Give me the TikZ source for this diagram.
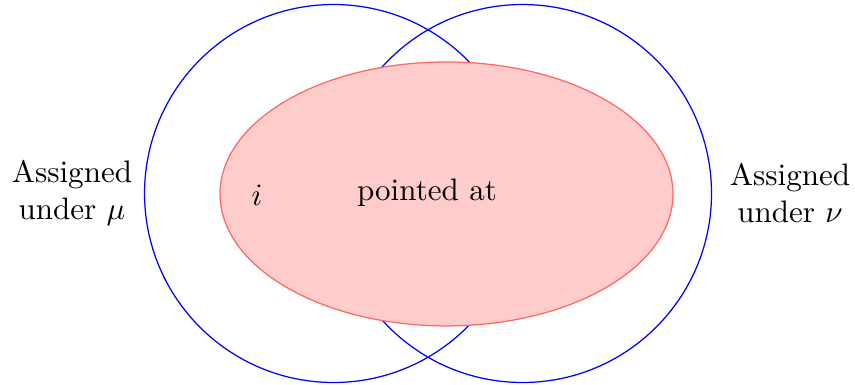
\documentclass[tikz,border=0pt]{standalone}
\begin{document}
\begin{tikzpicture}
    \useasboundingbox (0,0) rectangle (9.672,4.355);
    \draw[blue] (3.773,2.166) circle (2.138);
    \draw[blue] (5.911,2.166) circle (2.138);
    \draw[red!60,fill=red!20] (5.051,2.161) ellipse (2.562 and 1.493);
    \node[align=center] (mu) at (0.814,2.172) {Assigned\\under $\mu$};
    \node[align=center] (nu) at (8.937,2.172) {Assigned\\under $\nu$};
    \node (i) at (2.907,2.149) {$i$};
    \node (pointed) at (4.830,2.172) {pointed at};
  \end{tikzpicture}
\end{document}
